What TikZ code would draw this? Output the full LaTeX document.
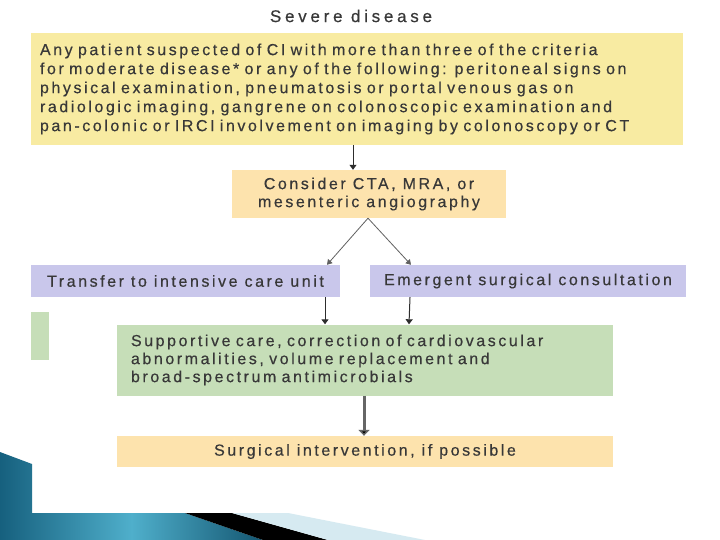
\documentclass[tikz,border=0pt]{standalone}
\usepackage{fontspec}
\setmainfont{Liberation Sans}[LetterSpace=16,FakeBold=0.4]
\newfontfamily\titlefont{Liberation Sans}[LetterSpace=22,FakeBold=0.4]
\usetikzlibrary{arrows.meta}
\definecolor{txt}{HTML}{383838}
\definecolor{yel}{HTML}{F8EBA2}
\definecolor{ora}{HTML}{FDE3AD}
\definecolor{pur}{HTML}{C9C7EB}
\definecolor{grn}{HTML}{C6DEB8}
\definecolor{bluedark}{HTML}{16607E}
\definecolor{bluemid}{HTML}{4FAFCB}
\definecolor{bluelight}{HTML}{D6EAF1}
\tikzset{
  box/.style={draw=none, inner sep=0pt, text=txt, font=\fontsize{16}{19}\selectfont},
  arr/.style={draw=txt!80!black, line width=1pt, -{Triangle[width=7pt,length=5pt]}},
  diag/.style={draw=txt!80, line width=0.8pt, -{Triangle[width=6pt,length=5pt]}},
  thick arr/.style={draw=black!60, line width=3pt, -{Triangle[width=11pt,length=6pt,fill=black]}}
}
\begin{document}
\begin{tikzpicture}[x=1pt,y=-1pt]
\useasboundingbox[fill=white] (0,0) rectangle (720,540);
% decoration bottom-left
\shade[left color=bluedark, right color=bluedark!90!black, middle color=bluemid]
  (0,452) -- (32,464) -- (32,513) -- (185,513) -- (263,540) -- (0,540) -- cycle;
\fill[black] (185,513) -- (232,513) -- (328,540) -- (263,540) -- cycle;
\fill[bluelight] (232,513) -- (288,513) -- (425,540) -- (328,540) -- cycle;
% title
\node[box, font=\titlefont\fontsize{17}{20}\selectfont] (title) at (351,16) {Severe disease};
% boxes
\node[box, fill=yel, minimum width=652pt, minimum height=112pt, text width=634pt, align=left]
  (crit) at (357,89) {Any patient suspected of CI with more than three of the criteria\\
for moderate disease* or any of the following: peritoneal signs on\\
physical examination, pneumatosis or portal venous gas on\\
radiologic imaging, gangrene on colonoscopic examination and\\
pan-colonic or IRCI involvement on imaging by colonoscopy or CT};
\node[box, fill=ora, minimum width=274pt, minimum height=48pt, align=center, font=\fontsize{16}{18}\selectfont]
  (cta) at (369,194) {Consider CTA, MRA, or\\mesenteric angiography};
\node[box, fill=pur, minimum width=309pt, minimum height=32pt]
  (icu) at (185.5,281) {Transfer to intensive care unit};
\node[box, fill=pur, minimum width=316pt, minimum height=32pt]
  (surg) at (528,281) {Emergent surgical consultation};
\node[box, fill=grn, minimum width=18pt, minimum height=48pt] (side) at (40,336) {};
\node[box, fill=grn, minimum width=496pt, minimum height=71pt, text width=468pt, align=left, font=\fontsize{16}{18}\selectfont]
  (supp) at (365,360) {Supportive care, correction of cardiovascular\\
abnormalities, volume replacement and\\
broad-spectrum antimicrobials};
\node[box, fill=ora, minimum width=496pt, minimum height=31pt]
  (interv) at (365,451.5) {Surgical intervention, if possible};
% connectors
\draw[arr] ([xshift=-4pt]crit.south) -- ([xshift=-16pt]cta.north);
\draw[diag] ([xshift=-1pt]cta.south) -- ([xshift=141.5pt]icu.north);
\draw[diag] ([xshift=-1pt]cta.south) -- ([xshift=-117pt]surg.north);
\draw[arr] ([xshift=139.5pt]icu.south) -- ([xshift=-40pt]supp.north);
\draw[arr] ([xshift=-118pt]surg.south) -- ([xshift=44pt]supp.north);
\draw[thick arr] ([xshift=-1pt]supp.south) -- ([xshift=-1pt]interv.north);
\end{tikzpicture}
\end{document}
